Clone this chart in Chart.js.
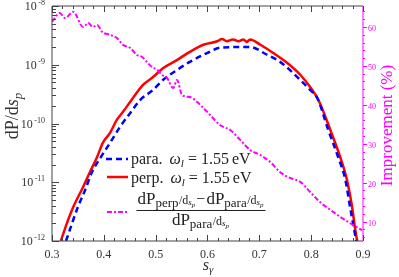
<!DOCTYPE html>
<html>
<head>
<meta charset="utf-8">
<script src="https://cdn.jsdelivr.net/npm/chart.js@4.4.1/dist/chart.umd.min.js"></script>
<style>
  html, body { margin: 0; padding: 0; background: #fff; }
  #wrap { width: 399px; height: 277px; }
</style>
</head>
<body>
<div id="wrap"><canvas id="chart"></canvas></div>
<script>
// ─── DATA ────────────────────────────────────────────────────
const sPara  = [0.327, 0.339, 0.350, 0.364, 0.377, 0.393, 0.412, 0.431, 0.451, 0.470, 0.495, 0.514, 0.541, 0.566, 0.599, 0.624, 0.657, 0.682, 0.715, 0.740, 0.759, 0.779, 0.798, 0.812, 0.833, 0.852, 0.866, 0.875, 0.883, 0.887];
const dpPara = [1.0e-12, 2.04e-12, 3.80e-12, 7.41e-12, 1.48e-11, 2.57e-11, 4.68e-11, 8.71e-11, 1.51e-10, 2.51e-10, 3.72e-10, 5.50e-10, 8.13e-10, 1.12e-9, 1.58e-9, 1.95e-9, 2.00e-9, 2.00e-9, 1.48e-9, 1.12e-9, 8.13e-10, 5.50e-10, 3.72e-10, 2.69e-10, 7.76e-11, 2.69e-11, 1.10e-11, 3.80e-12, 1.55e-12, 1.0e-12];

const sPerp  = [0.317, 0.329, 0.341, 0.360, 0.373, 0.387, 0.398, 0.412, 0.425, 0.437, 0.451, 0.476, 0.495, 0.514, 0.541, 0.566, 0.592, 0.619, 0.628, 0.637, 0.649, 0.660, 0.669, 0.676, 0.682, 0.702, 0.727, 0.754, 0.779, 0.798, 0.814, 0.837, 0.856, 0.869, 0.879, 0.885, 0.889];
const dpPerp = [1.0e-12, 2.04e-12, 3.80e-12, 8.32e-12, 1.48e-11, 2.69e-11, 4.68e-11, 6.92e-11, 1.15e-10, 1.58e-10, 2.34e-10, 4.57e-10, 6.17e-10, 8.71e-10, 1.20e-9, 1.66e-9, 2.19e-9, 2.51e-9, 2.75e-9, 2.51e-9, 2.69e-9, 2.51e-9, 2.69e-9, 2.45e-9, 2.69e-9, 2.19e-9, 1.58e-9, 1.07e-9, 6.76e-10, 4.17e-10, 2.51e-10, 7.76e-11, 2.69e-11, 1.10e-11, 3.80e-12, 1.55e-12, 1.0e-12];

const sImp = [0.300, 0.315, 0.325, 0.341, 0.360, 0.370, 0.379, 0.387, 0.397, 0.412, 0.425, 0.437, 0.451, 0.464, 0.474, 0.483, 0.493, 0.503, 0.512, 0.522, 0.534, 0.541, 0.551, 0.566, 0.586, 0.605, 0.624, 0.644, 0.663, 0.682, 0.702, 0.721, 0.740, 0.759, 0.779, 0.798, 0.817, 0.837, 0.856, 0.881, 0.898];
const improvement = [61.3, 63.6, 62.3, 63.9, 60.0, 61.0, 60.0, 60.5, 58.7, 58.0, 57.2, 55.4, 54.6, 52.8, 52.3, 51.0, 49.7, 49.0, 47.7, 46.9, 44.3, 46.4, 42.5, 42.0, 40.0, 37.4, 34.8, 33.5, 31.0, 28.4, 27.1, 25.3, 22.7, 21.2, 20.2, 17.6, 15.0, 13.0, 11.2, 9.1, 7.8];

const xTicks = [0.3, 0.4, 0.5, 0.6, 0.7, 0.8, 0.9];
const yDecades = [-12, -11, -10, -9, -8];
const impTicks = [10, 20, 30, 40, 50, 60];

const BLUE = '#0000ff';
const RED = '#ff0000';
const MAGENTA = '#ff00ff';
const AXIS = '#444444';
const SERIF = "'Liberation Serif', 'DejaVu Serif', serif";

const toXY = (xs, ys) => xs.map((x, i) => ({ x, y: ys[i] }));


// ─── TEXT HELPER ─────────────────────────────────────────────

/**
 * Draws a run of text pieces with their own size / style / baseline shift.
 * align: 'left' | 'right' | 'center' relative to x.
 */
function drawRuns(ctx, runs, x, y, align) {
    let total = 0;
    runs.forEach(r => {
        ctx.font = `${r.style || ''} ${r.size}px ${SERIF}`;
        r.w = ctx.measureText(r.t).width;
        total += r.w + (r.gap || 0);
    });
    let cx = align === 'right' ? x - total : align === 'center' ? x - total / 2 : x;
    runs.forEach(r => {
        ctx.font = `${r.style || ''} ${r.size}px ${SERIF}`;
        ctx.fillText(r.t, cx, y + (r.dy || 0));
        cx += r.w + (r.gap || 0);
    });
    return total;
}


// ─── AXES, TICKS, LABELS & LEGEND ────────────────────────────

const decorPlugin = {
    id: 'decor',
    afterDraw(chart) {
        const { ctx, chartArea: a, scales } = chart;
        const xs = scales.x, yl = scales.y, yr = scales.y2;
        ctx.save();
        ctx.textAlign = 'left';

        // frame
        ctx.lineWidth = 1;
        ctx.strokeStyle = AXIS;
        ctx.beginPath();
        ctx.moveTo(a.right, a.top); ctx.lineTo(a.left, a.top);
        ctx.lineTo(a.left, a.bottom); ctx.lineTo(a.right, a.bottom);
        ctx.stroke();
        ctx.strokeStyle = MAGENTA;
        ctx.beginPath();
        ctx.moveTo(a.right, a.top); ctx.lineTo(a.right, a.bottom);
        ctx.stroke();

        // x ticks (bottom and top, inward)
        ctx.strokeStyle = AXIS;
        ctx.beginPath();
        for (let k = 0; k <= 30; k++) {
            const v = 0.3 + k * 0.02;
            const px = Math.round(xs.getPixelForValue(v)) + 0.5;
            const len = k % 5 === 0 ? 6 : 3;
            ctx.moveTo(px, a.bottom); ctx.lineTo(px, a.bottom - len);
            ctx.moveTo(px, a.top); ctx.lineTo(px, a.top + len);
        }
        // left log ticks
        yDecades.forEach(e => {
            for (let m = 1; m <= 9; m++) {
                if (e === -8 && m > 1) break;
                const py = Math.round(yl.getPixelForValue(m * Math.pow(10, e))) + 0.5;
                const len = m === 1 ? 7 : 4;
                ctx.moveTo(a.left, py); ctx.lineTo(a.left + len, py);
            }
        });
        ctx.stroke();

        // right ticks (magenta, outward)
        ctx.strokeStyle = MAGENTA;
        ctx.beginPath();
        for (let v = 6; v <= 64; v += 2) {
            const py = Math.round(yr.getPixelForValue(v)) + 0.5;
            const len = v % 10 === 0 ? 4 : 2;
            ctx.moveTo(a.right, py); ctx.lineTo(a.right + len, py);
        }
        ctx.stroke();

        // x tick labels
        ctx.fillStyle = '#333';
        ctx.textBaseline = 'alphabetic';
        ctx.font = `12px ${SERIF}`;
        ctx.textAlign = 'center';
        xTicks.forEach(v => ctx.fillText(v.toFixed(1), xs.getPixelForValue(v), a.bottom + 17));

        // left tick labels: 10^e
        ctx.textAlign = 'left';
        yDecades.forEach(e => {
            const py = yl.getPixelForValue(Math.pow(10, e));
            drawRuns(ctx, [
                { t: '10', size: 12, gap: 1.5 },
                { t: '-' + Math.abs(e), size: 8, dy: -5 }
            ], a.left - 7, py + 4, 'right');
        });

        // right tick labels
        ctx.fillStyle = MAGENTA;
        impTicks.forEach(v => {
            ctx.fillText(String(v), a.right + 5, yr.getPixelForValue(v) + 4);
        });

        // right title
        ctx.save();
        ctx.translate(392, (a.top + a.bottom) / 2 + 2);
        ctx.rotate(-Math.PI / 2);
        drawRuns(ctx, [{ t: 'Improvement (%)', size: 17 }], 0, 0, 'center');
        ctx.restore();

        // left title dP/ds_p
        ctx.fillStyle = '#333';
        ctx.save();
        ctx.translate(18, 116);
        ctx.rotate(-Math.PI / 2);
        drawRuns(ctx, [
            { t: 'dP/d', size: 18 },
            { t: 's', size: 18, style: 'italic' },
            { t: 'p', size: 13, style: 'italic', dy: 4 }
        ], 0, 0, 'center');
        ctx.restore();

        // x title s_gamma
        drawRuns(ctx, [
            { t: 's', size: 16, style: 'italic' },
            { t: 'γ', size: 11, style: 'italic', dy: 3 }
        ], 208, 270, 'center');

        // ─── legend ───
        ctx.lineWidth = 2.5;
        ctx.strokeStyle = BLUE;
        ctx.setLineDash([6, 4]);
        ctx.beginPath(); ctx.moveTo(106, 159); ctx.lineTo(128, 159); ctx.stroke();
        ctx.strokeStyle = RED;
        ctx.setLineDash([]);
        ctx.beginPath(); ctx.moveTo(107, 177); ctx.lineTo(128, 177); ctx.stroke();
        ctx.lineWidth = 2;
        ctx.strokeStyle = MAGENTA;
        ctx.setLineDash([5, 2, 2, 2]);
        ctx.beginPath(); ctx.moveTo(107, 212); ctx.lineTo(128, 212); ctx.stroke();
        ctx.setLineDash([]);

        ctx.fillStyle = '#222';
        const eqRuns = name => [
            { t: name, size: 16, gap: 7 },
            { t: 'ω', size: 16, style: 'italic' },
            { t: 'l', size: 11, style: 'italic', dy: 3, gap: 4 },
            { t: '= 1.55', size: 16, gap: 3 },
            { t: 'eV', size: 16 }
        ];
        drawRuns(ctx, eqRuns('para.'), 131, 164, 'left');
        drawRuns(ctx, eqRuns('perp.'), 131, 183, 'left');

        const frac = (sub) => [
            { t: 'dP', size: 17 },
            { t: sub, size: 13, dy: 3, gap: 0.5 },
            { t: '/d', size: 12 },
            { t: 's', size: 9, style: 'italic', dy: 1 },
            { t: 'p', size: 7, style: 'italic', dy: 3, gap: 1 }
        ];
        const num = frac('perp').concat([{ t: '−', size: 16, gap: 1 }], frac('para'));
        const w = drawRuns(ctx, num, 201, 204, 'center');
        ctx.lineWidth = 1;
        ctx.strokeStyle = '#222';
        ctx.beginPath();
        ctx.moveTo(201 - w / 2 - 1, 210.5); ctx.lineTo(201 + w / 2 + 1, 210.5);
        ctx.stroke();
        drawRuns(ctx, frac('para'), 201, 225, 'center');

        ctx.restore();
    }
};


// ─── CHART ───────────────────────────────────────────────────

new Chart(document.getElementById('chart'), {
    type: 'line',
    data: {
        datasets: [
            {
                label: 'improvement',
                data: toXY(sImp, improvement),
                yAxisID: 'y2',
                borderColor: MAGENTA,
                borderWidth: 2,
                borderDash: [5, 2, 2, 2],
                pointRadius: 0,
                cubicInterpolationMode: 'monotone',
                fill: false
            },
            {
                label: 'para',
                data: toXY(sPara, dpPara),
                yAxisID: 'y',
                borderColor: BLUE,
                borderWidth: 2.5,
                borderDash: [6, 4],
                pointRadius: 0,
                cubicInterpolationMode: 'monotone',
                fill: false
            },
            {
                label: 'perp',
                data: toXY(sPerp, dpPerp),
                yAxisID: 'y',
                borderColor: RED,
                borderWidth: 2.5,
                pointRadius: 0,
                cubicInterpolationMode: 'monotone',
                fill: false
            }
        ]
    },
    options: {
        responsive: true,
        maintainAspectRatio: false,
        animation: false,
        devicePixelRatio: 1,
        layout: { padding: { top: 6, left: 0, right: 0, bottom: 0 } },
        plugins: { legend: { display: false }, tooltip: { enabled: false } },
        scales: {
            x: {
                type: 'linear', min: 0.3, max: 0.9,
                ticks: { display: false }, grid: { display: false }, border: { display: false },
                afterFit: s => { s.height = 36; }
            },
            y: {
                type: 'logarithmic', position: 'left', min: 1e-12, max: 1e-8,
                ticks: { display: false }, grid: { display: false }, border: { display: false },
                afterFit: s => { s.width = 52; }
            },
            y2: {
                type: 'linear', position: 'right', min: 5, max: 65.4,
                ticks: { display: false }, grid: { display: false }, border: { display: false },
                afterFit: s => { s.width = 36; }
            }
        }
    },
    plugins: [decorPlugin]
});
</script>
</body>
</html>
